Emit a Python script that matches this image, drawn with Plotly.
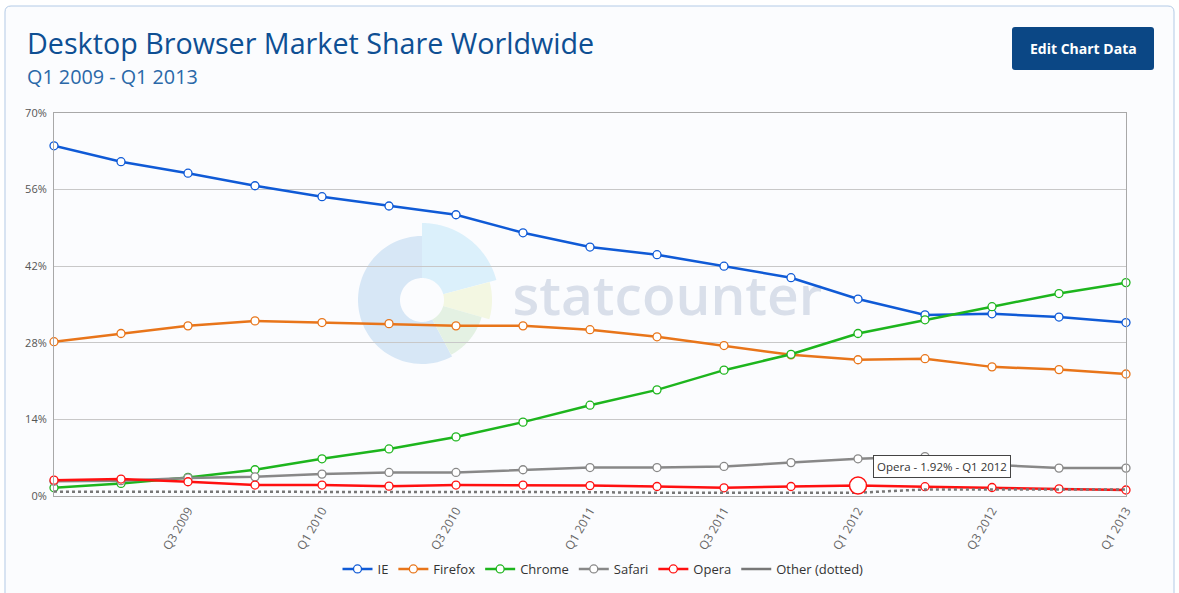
import numpy as np
import plotly.graph_objects as go

# ---------------- data ----------------
quarters = ["Q1 2009", "Q2 2009", "Q3 2009", "Q4 2009",
            "Q1 2010", "Q2 2010", "Q3 2010", "Q4 2010",
            "Q1 2011", "Q2 2011", "Q3 2011", "Q4 2011",
            "Q1 2012", "Q2 2012", "Q3 2012", "Q4 2012",
            "Q1 2013"]
tick_labels = ["Q3 2009", "Q1 2010", "Q3 2010", "Q1 2011",
               "Q3 2011", "Q1 2012", "Q3 2012", "Q1 2013"]

ie = [64.0, 61.1, 59.0, 56.7, 54.7, 53.0, 51.4, 48.1, 45.5, 44.1, 42.0, 39.9, 36.0, 33.1, 33.3, 32.7, 31.7]
firefox = [28.2, 29.7, 31.1, 32.0, 31.7, 31.5, 31.1, 31.1, 30.4, 29.1, 27.5, 25.8, 24.9, 25.1, 23.6, 23.1, 22.3]
chrome = [1.5, 2.3, 3.4, 4.8, 6.8, 8.6, 10.8, 13.5, 16.6, 19.4, 23.0, 25.9, 29.7, 32.2, 34.6, 37.0, 39.0]
safari = [2.7, 2.8, 3.3, 3.5, 4.0, 4.3, 4.3, 4.8, 5.2, 5.2, 5.4, 6.1, 6.8, 7.2, 5.7, 5.1, 5.1]
opera = [2.9, 3.1, 2.6, 2.0, 2.0, 1.8, 2.0, 2.0, 1.9, 1.74, 1.5, 1.74, 1.92, 1.7, 1.55, 1.3, 1.1]
other = [0.8, 0.8, 0.8, 0.8, 0.8, 0.8, 0.8, 0.8, 0.7, 0.6, 0.6, 0.6, 0.6, 1.2, 1.2, 1.2, 1.2]

series_names = ["IE", "Firefox", "Chrome", "Safari", "Opera"]
series_values = [ie, firefox, chrome, safari, opera]
series_colors = ["#0f5ad6", "#e8751a", "#1db51d", "#888888", "#ff1010"]

hover_index = 12  # Q1 2012 highlighted Opera point

# ---------------- geometry helpers (pixel -> paper) ----------------
W, H = 1179, 593
PL, PR, PT, PB = 54, 1126, 113, 496


def px(x):
    return (x - PL) / (PR - PL)


def py(y):
    return (PB - y) / (PB - PT)


def path_from_pixels(pts, close=True):
    s = "M " + " L ".join(f"{px(x):.5f},{py(y):.5f}" for x, y in pts)
    return s + (" Z" if close else "")


def wedge(cx, cy, r0, r1, a0, a1, n=60):
    ang = np.radians(np.linspace(a0, a1, n))
    outer = [(cx + r1 * np.cos(a), cy - r1 * np.sin(a)) for a in ang]
    inner = [(cx + r0 * np.cos(a), cy - r0 * np.sin(a)) for a in ang[::-1]]
    return path_from_pixels(outer + inner)


def rounded_rect(x0, y0, x1, y1, r):
    s = f"M {px(x0 + r):.5f},{py(y0):.5f} L {px(x1 - r):.5f},{py(y0):.5f} "
    s += f"Q {px(x1):.5f},{py(y0):.5f} {px(x1):.5f},{py(y0 + r):.5f} "
    s += f"L {px(x1):.5f},{py(y1 - r):.5f} "
    s += f"Q {px(x1):.5f},{py(y1):.5f} {px(x1 - r):.5f},{py(y1):.5f} "
    s += f"L {px(x0 + r):.5f},{py(y1):.5f} "
    s += f"Q {px(x0):.5f},{py(y1):.5f} {px(x0):.5f},{py(y1 - r):.5f} "
    s += f"L {px(x0):.5f},{py(y0 + r):.5f} "
    s += f"Q {px(x0):.5f},{py(y0):.5f} {px(x0 + r):.5f},{py(y0):.5f} Z"
    return s


FONT = "Open Sans"

fig = go.Figure()

for name, vals, col in zip(series_names, series_values, series_colors):
    fig.add_trace(go.Scatter(
        x=quarters, y=vals, name=name, mode="lines+markers",
        line=dict(color=col, width=2.5),
        marker=dict(size=8, color="white", line=dict(color=col, width=1.3)),
        cliponaxis=False,
        hovertemplate=name + " - %{y}% - %{x}<extra></extra>",
    ))

fig.add_trace(go.Scatter(
    x=quarters, y=other, name="Other (dotted)", mode="lines",
    line=dict(color="#777777", width=2.5, dash="dot"),
    showlegend=False, cliponaxis=False,
))
# legend entry for Other (solid line sample)
fig.add_trace(go.Scatter(
    x=[None], y=[None], name="Other (dotted)", mode="lines",
    line=dict(color="#777777", width=2.5),
))

# highlighted (hovered) Opera point
fig.add_trace(go.Scatter(
    x=[quarters[hover_index]], y=[opera[hover_index]], mode="markers",
    marker=dict(size=17, color="white", line=dict(color="#ff1010", width=1.5)),
    showlegend=False, cliponaxis=False, hoverinfo="skip",
))

shapes = []
# card
shapes.append(dict(type="path", xref="paper", yref="paper",
                   path=rounded_rect(5, 6, 1174, 640, 6),
                   fillcolor="#fbfcfe", line=dict(color="#b3cae6", width=1),
                   layer="below"))
# watermark logo
cx, cy = 422, 300
logo = [
    (22, 64, 90, 298, "#d7e7f6"),
    (22, 77, 15, 90, "#dbf0fb"),
    (22, 70, -16, 15, "#f3f7e2"),
    (22, 62, -62, -16, "#e4f1e3"),
]
for r0, r1, a0, a1, colr in logo:
    shapes.append(dict(type="path", xref="paper", yref="paper",
                       path=wedge(cx, cy, r0, r1, a0, a1),
                       fillcolor=colr, line=dict(width=0), layer="below"))
# watermark text (shape label keeps it beneath the data lines)
shapes.append(dict(type="rect", xref="paper", yref="paper",
                   x0=px(505), x1=px(830), y0=py(322), y1=py(272),
                   line=dict(width=0), fillcolor="rgba(0,0,0,0)", layer="below",
                   label=dict(text="statcounter",
                              font=dict(family=FONT, size=55, color="#d9dfea", weight=600),
                              textposition="middle center")))
# button
shapes.append(dict(type="path", xref="paper", yref="paper",
                   path=rounded_rect(1012, 27, 1154, 70, 3),
                   fillcolor="#0b4785", line=dict(width=0), layer="above"))

annotations = [
    dict(text="Desktop Browser Market Share Worldwide", xref="paper", yref="paper",
         x=px(25), y=py(43), xanchor="left", yanchor="middle", showarrow=False,
         font=dict(family=FONT, size=28.7, color="#0e4f93")),
    dict(text="Q1 2009 - Q1 2013", xref="paper", yref="paper",
         x=px(25), y=py(76), xanchor="left", yanchor="middle", showarrow=False,
         font=dict(family=FONT, size=19.8, color="#2a68a8")),
    dict(text="<b>Edit Chart Data</b>", xref="paper", yref="paper",
         x=px(1083), y=py(48.5), xanchor="center", yanchor="middle", showarrow=False,
         font=dict(family=FONT, size=14, color="white")),
    dict(text=f"Opera - {opera[hover_index]}% - {quarters[hover_index]}",
         x=quarters[hover_index], y=opera[hover_index], xref="x", yref="y",
         xanchor="left", yanchor="middle", xshift=15, yshift=19, showarrow=False,
         bgcolor="white", bordercolor="#444444", borderwidth=1, borderpad=3,
         font=dict(family=FONT, size=11.5, color="#333333")),
]

fig.update_layout(
    width=W, height=H,
    margin=dict(l=PL, r=W - PR, t=PT, b=H - PB, pad=0, autoexpand=False),
    paper_bgcolor="white", plot_bgcolor="rgba(0,0,0,0)",
    font=dict(family=FONT, color="#555555", size=11),
    shapes=shapes, annotations=annotations,
    showlegend=True,
    legend=dict(orientation="h", x=px(603), y=py(569), xanchor="center", yanchor="middle",
                bgcolor="rgba(0,0,0,0)", font=dict(family=FONT, size=13, color="#333333"),
                itemwidth=30, traceorder="normal"),
    hovermode="closest",
)
fig.update_xaxes(
    type="category", categoryorder="array", categoryarray=quarters,
    range=[0, len(quarters) - 1], automargin=False,
    tickvals=tick_labels, ticktext=tick_labels, tickangle=-60,
    showgrid=False, showline=True, linecolor="#a8a8a8", linewidth=1, mirror=True,
    tickfont=dict(family=FONT, size=12, color="#666666"), ticks="",
    ticklabelstandoff=2, zeroline=False,
)
fig.update_yaxes(
    range=[0, 70], dtick=14, ticksuffix="%", automargin=False,
    showgrid=True, gridcolor="#c8c8c8", gridwidth=1,
    showline=True, linecolor="#a8a8a8", linewidth=1, mirror=True,
    tickfont=dict(family=FONT, size=11, color="#555555"), zeroline=False,
    ticklabelstandoff=4,
)

fig.write_html("out.html", config={"displayModeBar": False},
               post_script="document.body.style.margin='0';document.body.style.overflow='hidden';")
